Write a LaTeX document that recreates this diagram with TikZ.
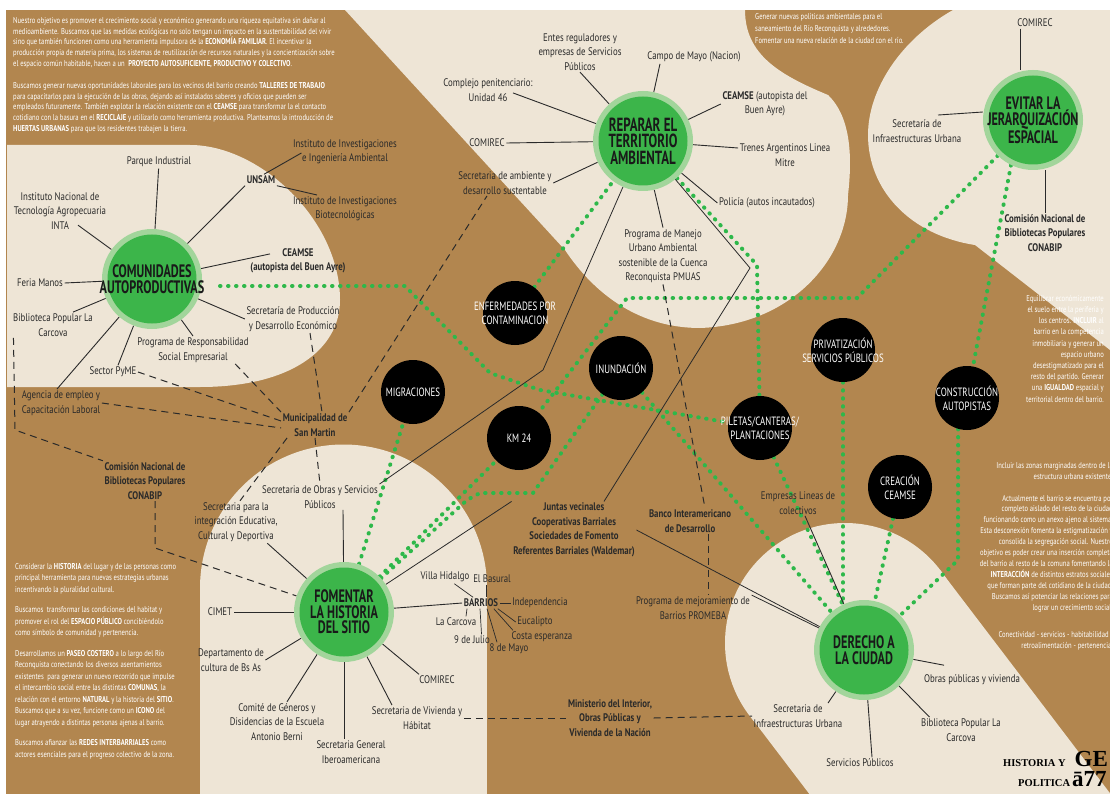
\documentclass[tikz,border=0pt]{standalone}
\usepackage{fontspec}
\setmainfont{PT Sans}
\newfontfamily\labf{PT Sans}[FakeStretch=0.8]
\newfontfamily\hubf{PT Sans}[FakeStretch=0.68]
\newfontfamily\blkf{PT Sans}[FakeStretch=0.74]
\newfontfamily\parf{PT Sans}[FakeStretch=0.78]
\newfontfamily\logof{Liberation Serif}
\usetikzlibrary{calc}
\pgfdeclarelayer{bg}
\pgfsetlayers{bg,main}
\definecolor{paper}{HTML}{B2864F}
\definecolor{cream}{HTML}{EEE5D6}
\definecolor{hubg}{HTML}{3CB54A}
\definecolor{ringg}{HTML}{A2D59B}
\definecolor{dotg}{HTML}{2EB84A}
\definecolor{ink}{HTML}{2A2A2A}
\tikzset{
 lab/.style={font=\labf\fontsize{11}{14.5}\selectfont, text=ink, align=center, inner sep=1.5pt},
 blab/.style={lab, font=\labf\bfseries\fontsize{11}{14.5}\selectfont},
 hubnode/.style={circle, minimum size=100pt, inner sep=0pt, fill=ringg,
   path picture={\fill[hubg] (path picture bounding box.center) circle (44.5pt);}},
 hubtext/.style={font=\hubf\bfseries\fontsize{18}{15.5}\selectfont, text=black!90, align=center, inner sep=0pt},
 blknode/.style={circle, minimum size=64pt, inner sep=0pt, fill=black},
 blktext/.style={font=\blkf\fontsize{12}{14}\selectfont, text=white, align=center, inner sep=0pt},
 spoke/.style={draw=ink, line width=0.9pt},
 thinline/.style={draw=ink, line width=0.8pt},
 dashline/.style={draw=ink, line width=1pt, dash pattern=on 7pt off 5pt},
 gdot/.style={draw=dotg, line width=4pt, line cap=round, dash pattern=on 0.5pt off 7.5pt},
 para/.style={font=\parf\fontsize{8.5}{10.8}\selectfont, text=white, inner sep=0pt},
 logotext/.style={font=\logof\bfseries\fontsize{10.5}{12}\selectfont, text=black, inner sep=0pt, anchor=base west},
}
\begin{document}
\begin{tikzpicture}[x=1pt,y=-1pt]
\useasboundingbox (0,0) rectangle (1110,794);
\begin{pgfonlayer}{bg}
\fill[paper] (0,0) rectangle (1110,794);
\fill[cream] (7,145) -- (190,145) .. controls (260,145) and (340,220) .. (340,300) .. controls (340,350) and (290,387) .. (200,387) -- (7,387) -- cycle;
\fill[cream] (345,10) -- (745,10) .. controls (745,55) and (780,75) .. (828,95) .. controls (852,118) and (852,160) .. (848,195) .. controls (848,260) and (790,325) .. (700,328) .. controls (640,328) and (595,295) .. (565,250) -- cycle;
\fill[cream] (953,10) .. controls (900,40) and (868,90) .. (868,135) .. controls (868,190) and (910,235) .. (975,245) -- (1110,350) -- (1110,10) -- cycle;
\fill[cream] (343.5,588) circle (143.5pt);
\fill[cream] (200,588) rectangle (487,794);
\fill[cream] (845,643) circle (120pt);
\fill[cream] (940,570) -- (1122,809) -- (871,875) -- (750,716) -- cycle;
\fill[white] (0,0) rectangle (1110,10);
\fill[white] (0,0) rectangle (6,794);
\end{pgfonlayer}

% white paragraphs
\node[para, anchor=north west, align=left] (ptl) at (13,17) {Nuestro objetivo es promover el crecimiento social y económico generando una riqueza equitativa sin dañar al\\
medioambiente. Buscamos que las medidas ecológicas no solo tengan un impacto en la sustentabilidad del vivir\\
sino que también funcionen como una herramienta impulsora de la \textbf{ECONOMÍA FAMILIAR}. El incentivar la\\
producción propia de materia prima, los sistemas de reutilización de recursos naturales y la concientización sobre\\
el espacio común habitable, hacen a un \ \textbf{PROYECTO AUTOSUFICIENTE, PRODUCTIVO Y COLECTIVO}.\\[11pt]
Buscamos generar nuevas oportunidades laborales para los vecinos del barrio creando \textbf{TALLERES DE TRABAJO}\\
para capacitarlos para la ejecución de las obras, dejando así instalados saberes y oficios que pueden ser\\
empleados futuramente. También explotar la relación existente con el \textbf{CEAMSE} para transformar la el contacto\\
cotidiano con la basura en el \textbf{RECICLAJE} y utilizarlo como herramienta productiva. Planteamos la introducción de\\
\textbf{HUERTAS URBANAS} para que los residentes trabajen la tierra.};

\node[para, anchor=north west, align=left, font=\parf\fontsize{8.5}{12}\selectfont] (ptc) at (755,13) {Generar nuevas políticas ambientales para el\\
saneamiento del Río Reconquista y alrededores.\\
Fomentar una nueva relación de la ciudad con el río.};

\node[para, anchor=north east, align=right, font=\parf\fontsize{8.5}{11.2}\selectfont] (pr1) at (1104,295) {Equilibrar económicamente\\
el suelo entre la periferia y\\
los centros. \textbf{INCLUIR} al\\
barrio en la competencia\\
inmobiliaria y generar un\\
espacio urbano\\
desestigmatizado para el\\
resto del partido. Generar\\
una \textbf{IGUALDAD} espacial y\\
territorial dentro del barrio.};

\node[para, anchor=north east, align=right, font=\parf\fontsize{8.5}{10.9}\selectfont] (pr2) at (1113,462) {Incluir las zonas marginadas dentro de la\\
estructura urbana existente.\\[11pt]
Actualmente el barrio se encuentra por\\
completo aislado del resto de la ciudad\\
funcionando como un anexo ajeno al sistema.\\
Esta desconexión fomenta la estigmatización y\\
consolida la segregación social. Nuestro\\
objetivo es poder crear una inserción completa\\
del barrio al resto de la comuna fomentando la\\
\textbf{INTERACCIÓN} de distintos estratos sociales\\
que forman parte del cotidiano de la ciudad.\\
Buscamos así potenciar las relaciones para\\
lograr un crecimiento social.\\[17pt]
Conectividad - servicios - habitabilidad -\\
retroalimentación - pertenencia.};

\node[para, anchor=north west, align=left, font=\parf\fontsize{8.5}{11.5}\selectfont] (pbl) at (15,563) {Considerar la \textbf{HISTORIA} del lugar y de las personas como\\
principal herramienta para nuevas estrategias urbanas\\
incentivando la pluralidad cultural.\\[9pt]
Buscamos \ transformar las condiciones del habitat y\\
promover el rol del \textbf{ESPACIO PÚBLICO} concibiéndolo\\
como símbolo de comunidad y pertenencia.\\[9pt]
Desarrollamos un \textbf{PASEO COSTERO} a lo largo del Río\\
Reconquista conectando los diversos asentamientos\\
existentes \ para generar un nuevo recorrido que impulse\\
el intercambio social entre las distintas \textbf{COMUNAS}, la\\
relación con el entorno \textbf{NATURAL} y la historia del \textbf{SITIO}.\\
Buscamos que a su vez, funcione como un \textbf{ICONO} del\\
lugar atrayendo a distintas personas ajenas al barrio.\\[9pt]
Buscamos afianzar las \textbf{REDES INTERBARRIALES} como\\
actores esenciales para el progreso colectivo de la zona.};

\node[logotext] (logoa) at (1003,766) {HISTORIA Y\hspace{9pt}{\fontsize{23}{23}\selectfont GE}};
\node[logotext] (logob) at (1018,786) {POLITICA\hspace{2pt}{\fontsize{23}{23}\selectfont ā77}};

% hubs
\node[hubnode, label={[hubtext]center:{COMUNIDADES\\AUTOPRODUCTIVAS}}] (com) at (152,279) {};
\node[hubnode, label={[hubtext, font=\hubf\bfseries\fontsize{19}{16.5}\selectfont]center:{REPARAR EL\\TERRITORIO\\AMBIENTAL}}] (rep) at (643,141) {};
\node[hubnode, label={[hubtext]center:{EVITAR LA\\JERARQUIZACIÓN\\ESPACIAL}}] (evi) at (1033,120) {};
\node[hubnode, label={[hubtext]center:{FOMENTAR\\LA HISTORIA\\DEL SITIO}}] (fom) at (344,612) {};
\node[hubnode, label={[hubtext]center:{DERECHO A\\LA CIUDAD}}] (der) at (864,650) {};

% black circles
\node[blknode, label={[blktext]center:{ENFERMEDADES POR\\CONTAMINACION}}] (enf) at (515,313) {};
\node[blknode, label={[blktext]center:{MIGRACIONES}}] (mig) at (413,392) {};
\node[blknode, label={[blktext]center:{KM 24}}] (km) at (519,438) {};
\node[blknode, label={[blktext]center:{INUNDACIÓN}}] (inu) at (621,368) {};
\node[blknode, label={[blktext]center:{PILETAS/CANTERAS/\\PLANTACIONES}}] (pil) at (760,428) {};
\node[blknode, label={[blktext]center:{PRIVATIZACIÓN\\SERVICIOS PÚBLICOS}}] (pri) at (843,350) {};
\node[blknode, label={[blktext]center:{CONSTRUCCIÓN\\AUTOPISTAS}}] (con) at (967,398) {};
\node[blknode, label={[blktext]center:{CREACIÓN\\CEAMSE}}] (cre) at (900,487) {};

% labels: comunidades
\node[lab] (parque) at (159,162) {Parque Industrial};
\node[lab] (inta) at (60,211) {Instituto Nacional de\\Tecnología Agropecuaria\\INTA};
\node[blab] (unsam) at (261,180) {UNSAM};
\node[lab] (iiia) at (345,152) {Instituto de Investigaciones\\e Ingeniería Ambiental};
\node[lab] (iib) at (345,209) {Instituto de Investigaciones\\Biotecnológicas};
\node[blab] (ceamsea) at (298,261) {CEAMSE\\(autopista del Buen Ayre)};
\node[lab] (feria) at (40,283) {Feria Manos};
\node[lab] (biblA) at (53,325) {Biblioteca Popular La\\Carcova};
\node[lab] (secprod) at (293,319) {Secretaría de Producción\\y Desarrollo Económico};
\node[lab] (progresp) at (193,350) {Programa de Responsabilidad\\Social Empresarial};
\node[lab] (pyme) at (113,372) {Sector PyME};
\node[lab] (agencia) at (61,403) {Agencia de empleo y\\Capacitación Laboral};
\node[blab] (conabipA) at (145,481) {Comisión Nacional de\\Bibliotecas Populares\\CONABIP};
\node[blab] (muni) at (315,425) {Municipalidad de\\San Martin};
\node[lab] (secobras) at (320,497) {Secretaria de Obras y Servicios\\Públicos};
\node[lab] (secint) at (236,522) {Secretaria para la\\integración Educativa,\\Cultural y Deportiva};
% fomentar
\node[lab] (cimet) at (220,612) {CIMET};
\node[lab] (depto) at (231,660) {Departamento de\\cultura de Bs As};
\node[lab] (comite) at (277,722) {Comité de Géneros y\\Disidencias de la Escuela\\Antonio Berni};
\node[lab] (secgral) at (351,752) {Secretaria General\\Iberoamericana};
\node[lab] (secviv) at (417,718) {Secretaria de Vivienda y\\Hábitat};
\node[lab] (comirecB) at (437,680) {COMIREC};
\node[blab] (barrios) at (481,603) {BARRIOS};
\node[lab] (villa) at (445,577) {Villa Hidalgo};
\node[lab] (basural) at (492,579) {El Basural};
\node[lab] (indep) at (540,603) {Independencia};
\node[lab] (euca) at (535,622) {Eucalipto};
\node[lab] (costa) at (542,637) {Costa esperanza};
\node[lab] (mayo) at (509,649) {8 de Mayo};
\node[lab] (julio) at (472,640) {9 de Julio};
\node[lab] (carcovaB) at (456,622) {La Carcova};
% middle
\node[blab] (juntas) at (574,530) {Juntas vecinales\\Cooperativas Barriales\\Sociedades de Fomento\\Referentes Barriales (Waldemar)};
\node[blab] (bid) at (690,521) {Banco Interamericano\\de Desarrollo};
\node[lab] (promeba) at (693,608) {Programa de mejoramiento de\\Barrios PROMEBA};
\node[blab] (minist) at (610,718) {Ministerio del Interior,\\Obras Públicas y\\Vivienda de la Nación};
% reparar
\node[lab] (entes) at (580,52) {Entes reguladores y\\empresas de Servicios\\Públicos};
\node[lab] (campo) at (694,57) {Campo de Mayo (Nacion)};
\node[lab] (ceamseb) at (765,104) {\textbf{CEAMSE} (autopista del\\Buen Ayre)};
\node[lab] (trenes) at (785,155) {Trenes Argentinos Linea\\Mitre};
\node[lab] (policia) at (767,203) {Policía (autos incautados)};
\node[lab] (comirecA) at (487,143) {COMIREC};
\node[lab] (complejo) at (488,90) {Complejo penitenciario:\\Unidad 46};
\node[lab] (secamb) at (505,183) {Secretaria de ambiente y\\desarrollo sustentable};
\node[lab] (pmuas) at (663,256) {Programa de Manejo\\Urbano Ambiental\\sostenible de la Cuenca\\Reconquista PMUAS};
% evitar
\node[lab] (comirecC) at (1035,23) {COMIREC};
\node[lab] (secinfA) at (917,131) {Secretaría de\\Infraestructuras Urbana};
\node[blab] (conabipB) at (1045,233) {Comisión Nacional de\\Bibliotecas Populares\\CONABIP};
% derecho
\node[lab] (empresas) at (798,503) {Empresas Lineas de\\colectivos};
\node[lab] (obras) at (972,680) {Obras públicas y vivienda};
\node[lab] (biblB) at (961,730) {Biblioteca Popular La\\Carcova};
\node[lab] (servpub) at (860,763) {Servicios Públicos};
\node[lab] (secinfB) at (798,716) {Secretaria de\\Infraestructuras Urbana};

\begin{pgfonlayer}{bg}
% green dotted
\draw[gdot] ([xshift=68pt,yshift=-7pt]com.center) -- (405,286) -- (490,373) -- (540,390) -- (pil);
\draw[gdot] (enf) -- (rep);
\draw[gdot] (rep) -- (757,265) -- (pil);
\draw[gdot] (evi) -- (857,298) -- (627,298) -- (km);
\draw[gdot] (evi.244) -- (con);
\draw[gdot] (con.254) -- (958,560) -- (der);
\draw[gdot] (pri) -- (843,605);
\draw[gdot] (cre) -- (der);
\draw[gdot] (pil) -- (der);
\draw[gdot] (inu) -- (der);
\draw[gdot] (fom) -- (mig);
\draw[gdot] (fom) -- (km);
\draw[gdot] (fom) -- (467,500) -- (480,493) -- (533,493) -- (inu);
% thin solid connectors
\draw[thinline] (secobras.north east) -- (543,370) -- (rep);
\draw[thinline] (rep) -- (750,268) -- ([xshift=30pt]juntas.north);
\draw[thinline] (fom) -- (juntas.north west);
\draw[thinline] (juntas.east) -- (der);
\draw[thinline] (promeba.north east) -- (der);
% dashed
\draw[dashline] ([xshift=2pt]biblA.south west) -- (15,430) -- (conabipA.north west);
\draw[dashline] ([xshift=10pt]conabipA.south) -- (155,548) -- (fom);
\draw[dashline] (pyme.east) -- ([yshift=4pt]muni.west);
\draw[dashline] (agencia.east) -- ([yshift=-3pt]muni.west);
\draw[dashline] ([xshift=-15pt]progresp.south east) -- (muni.north west);
\draw[dashline] ([xshift=17pt]secprod.south) -- ([xshift=7pt]muni.north);
\draw[dashline] (muni.north east) -- ([xshift=-18pt]secamb.south);
\draw[dashline] ([xshift=6pt]muni.south west) -- ([xshift=4pt]secint.north);
\draw[dashline] (muni.south) -- (secobras.north);
\draw[dashline] (pmuas.south) -- ([xshift=15pt]bid.north);
\draw[dashline] ([xshift=18pt]bid.south) -- ([xshift=15pt]promeba.north);
\draw[dashline] (secviv.east) -- (minist.west);
\draw[dashline] (minist.east) -- (secinfB.west);
% spokes comunidades
\draw[spoke] (com) -- (parque);
\draw[spoke] (com) -- ([shift={(18,-6)}]inta.south);
\draw[spoke] (com) -- (unsam.south west);
\draw[spoke] ([xshift=3pt]unsam.north) -- ([shift={(10,-13)}]iiia.south west);
\draw[spoke] (unsam.south east) -- ([xshift=-28pt]iib.north);
\draw[spoke] (com) -- ([xshift=-28pt,yshift=-7pt]ceamsea.north);
\draw[spoke] (com) -- (feria.east);
\draw[spoke] (com) -- ([xshift=20pt]biblA.north);
\draw[spoke] (com) -- (secprod.west);
\draw[spoke] (com) -- (progresp.north);
\draw[spoke] (com) -- ([xshift=5pt]pyme.north);
\draw[spoke] (com) -- ([xshift=-4pt]agencia.north);
% spokes reparar
\draw[spoke] (rep) -- (entes.south);
\draw[spoke] (rep) -- ([xshift=-34pt]campo.south);
\draw[spoke] (rep) -- (ceamseb.west);
\draw[spoke] (rep) -- ([yshift=7pt]trenes.west);
\draw[spoke] (rep) -- (policia.west);
\draw[spoke] (rep) -- (comirecA.east);
\draw[spoke] (rep) -- ([shift={(25,-10)}]complejo.south);
\draw[spoke] (rep) -- (secamb.east);
\draw[spoke] (rep) -- (pmuas.north);
% spokes evitar
\draw[spoke] ([xshift=-15pt]comirecC.south) -- ([xshift=-13pt]evi.north);
\draw[spoke] ([xshift=21pt,yshift=3pt]secinfA.north) -- ([yshift=8pt]evi.west);
\draw[spoke] ([xshift=12pt]evi.south) -- (conabipB.north);
% spokes fomentar
\draw[spoke] (fom) -- (cimet.east);
\draw[spoke] (fom) -- (depto.east);
\draw[spoke] (fom) -- ([xshift=10pt]comite.north);
\draw[spoke] (fom) -- ([xshift=-7pt]secgral.north);
\draw[spoke] (fom) -- ([xshift=-25pt]secviv.north);
\draw[spoke] (fom) -- ([xshift=-18pt]comirecB.north);
\draw[spoke] (fom) -- (barrios.west);
\draw[spoke] ([xshift=23pt]secobras.south) -- (fom);
\draw[spoke] ([xshift=-12pt]secint.south east) -- (fom);
\draw[spoke, line width=0.7pt] (villa) -- (barrios);
\draw[spoke, line width=0.7pt] ([xshift=-6pt]basural.south) -- ([xshift=5pt]barrios.north);
\draw[spoke, line width=0.7pt] (barrios.east) -- (indep.west);
\draw[spoke, line width=0.7pt] ([xshift=-2pt]barrios.south east) -- (euca.west);
\draw[spoke, line width=0.7pt] ([xshift=-6pt]barrios.south east) -- ([xshift=3pt]costa.north west);
\draw[spoke, line width=0.7pt] ([xshift=6pt]barrios.south) -- ([xshift=-12pt]mayo.north);
\draw[spoke, line width=0.7pt] ([xshift=-1pt]barrios.south) -- ([xshift=-10pt]julio.north east);
\draw[spoke, line width=0.7pt] ([xshift=-14pt]barrios.south) -- ([xshift=10pt]carcovaB.north);
% spokes derecho
\draw[spoke] (der) -- ([xshift=7pt]empresas.south);
\draw[spoke] (der) -- ([xshift=-28pt,yshift=8pt]obras.north);
\draw[spoke] (der) -- ([xshift=10pt]biblB.north west);
\draw[spoke] (der) -- ([xshift=12pt]servpub.north);
\draw[spoke] (der) -- ([xshift=-16pt]secinfB.north east);
\end{pgfonlayer}
\end{tikzpicture}
\end{document}
